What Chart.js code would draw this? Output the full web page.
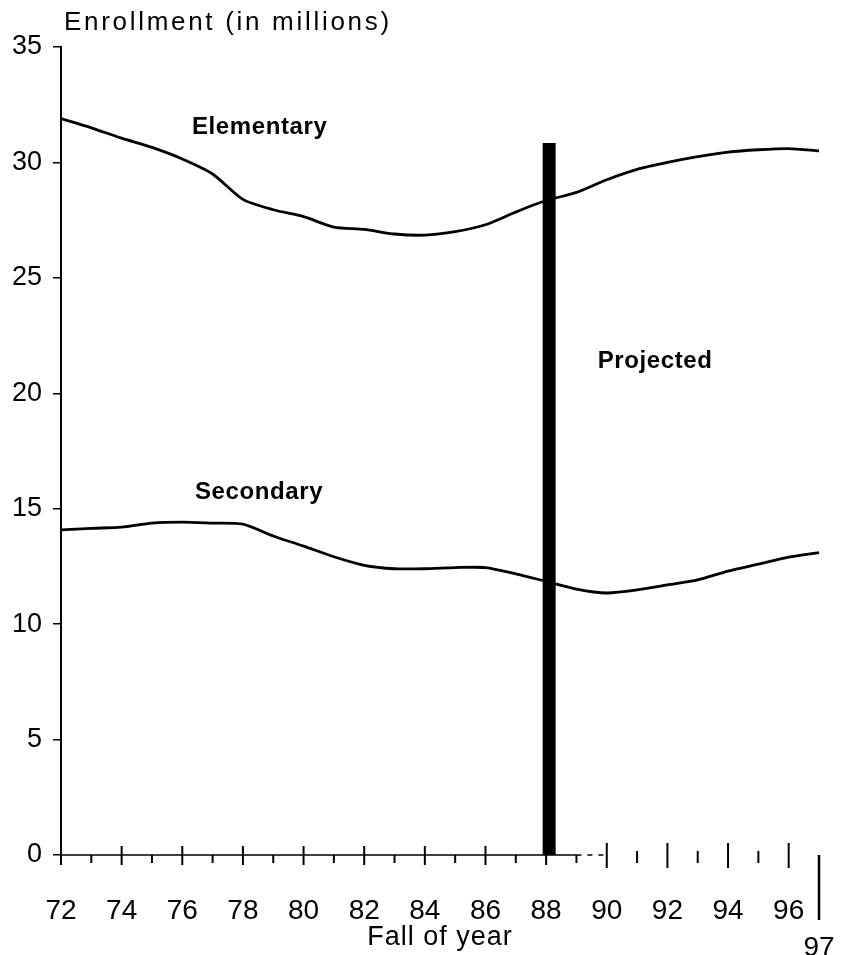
<!DOCTYPE html>
<html lang="en">

<head>
    <meta charset="UTF-8">
    <title>Enrollment</title>
    <script src="https://cdn.jsdelivr.net/npm/chart.js"></script>
    <style>
        body { margin: 0; background: #fff; }
        canvas { display: block; }
    </style>
</head>

<body>
    <canvas id="grafico" width="841" height="955"></canvas>

<script>
    // anos (fall of year) e matriculas em milhoes
    var anos = [72, 73, 74, 75, 76, 77, 78, 79, 80, 81, 82, 83, 84, 85, 86, 87, 88, 89, 90, 91, 92, 93, 94, 95, 96, 97];
    var elementary = [31.9, 31.5, 31.05, 30.65, 30.15, 29.5, 28.4, 27.95, 27.65, 27.2, 27.1, 26.9, 26.85, 27.0, 27.3, 27.85, 28.35, 28.7, 29.25, 29.7, 30.0, 30.25, 30.45, 30.55, 30.6, 30.5];
    var secondary = [14.08, 14.15, 14.2, 14.38, 14.42, 14.38, 14.33, 13.82, 13.38, 12.92, 12.55, 12.4, 12.4, 12.45, 12.45, 12.18, 11.85, 11.52, 11.35, 11.48, 11.7, 11.92, 12.3, 12.6, 12.9, 13.1];
    var xTicks = [72, 74, 76, 78, 80, 82, 84, 86, 88, 90, 92, 94, 96, 97];
    var yTicks = [0, 5, 10, 15, 20, 25, 30, 35];
    var projetadoAno = 88.1;
    var projetadoTopo = 30.84;

    // rotulos dentro do grafico (em valores de dados)
    var notas = [
        { texto: "Elementary", x: 76.32, y: 31.5 },
        { texto: "Secondary", x: 76.42, y: 15.7 },
        { texto: "Projected", x: 89.7, y: 21.4 }
    ];

    function pontos(valores) {
        var lista = [];
        for (var i = 0; i < anos.length; i++) {
            lista.push({ x: anos[i], y: valores[i] });
        }
        return lista;
    }

    var extras = {
        id: 'extras',
        afterDraw: function (chart) {
            var ctx = chart.ctx;
            var sx = chart.scales.x;
            var sy = chart.scales.y;
            var y0 = sy.getPixelForValue(0);
            ctx.save();
            ctx.strokeStyle = '#000';
            ctx.fillStyle = '#000';

            // linha do eixo x (solida ate 89, tracejada ate 90)
            ctx.lineWidth = 1.5;
            ctx.beginPath();
            ctx.moveTo(sx.getPixelForValue(72), y0);
            ctx.lineTo(sx.getPixelForValue(89), y0);
            ctx.stroke();
            ctx.setLineDash([5, 6]);
            ctx.beginPath();
            ctx.moveTo(sx.getPixelForValue(89), y0);
            ctx.lineTo(sx.getPixelForValue(90), y0);
            ctx.stroke();
            ctx.setLineDash([]);

            // marcas do eixo x
            ctx.lineWidth = 2;
            for (var a = 72; a <= 96; a++) {
                var px = sx.getPixelForValue(a);
                var cima, baixo;
                if (a % 2 == 0) {
                    cima = a >= 90 ? 12 : 9;
                    baixo = a >= 90 ? 13 : 10;
                } else {
                    cima = a >= 90 ? 4 : 0;
                    baixo = 8;
                }
                ctx.beginPath();
                ctx.moveTo(px, y0 - cima);
                ctx.lineTo(px, y0 + baixo);
                ctx.stroke();
            }
            // traco longo do 97
            var p97 = sx.getPixelForValue(97);
            ctx.lineWidth = 2.5;
            ctx.beginPath();
            ctx.moveTo(p97, y0);
            ctx.lineTo(p97, y0 + 65);
            ctx.stroke();

            // titulos
            ctx.textBaseline = 'middle';
            ctx.textAlign = 'left';
            ctx.font = '26px "Liberation Sans", Arial, sans-serif';
            ctx.letterSpacing = '2.7px';
            ctx.fillText('Enrollment (in millions)', 64, 23);

            ctx.textAlign = 'center';
            ctx.font = '27px "Liberation Sans", Arial, sans-serif';
            ctx.letterSpacing = '1px';
            ctx.fillText('Fall of year', (sx.left + sx.right) / 2, 938);

            ctx.textAlign = 'left';
            ctx.font = 'bold 24px "Liberation Sans", Arial, sans-serif';
            ctx.letterSpacing = '0.6px';
            notas.forEach(function (n) {
                ctx.fillText(n.texto, sx.getPixelForValue(n.x), sy.getPixelForValue(n.y));
            });
            ctx.restore();
        }
    };

    const ctx = document.getElementById('grafico');
    new Chart(ctx, {
        type: 'line',
        data: {
            datasets: [{
                label: 'Projected',
                data: [{ x: projetadoAno, y: 0 }, { x: projetadoAno, y: projetadoTopo }],
                borderColor: '#000',
                borderWidth: 13,
                borderCapStyle: 'butt',
                pointRadius: 0,
                order: 0
            }, {
                label: 'Elementary',
                data: pontos(elementary),
                borderColor: '#000',
                borderWidth: 2.8,
                pointRadius: 0,
                tension: 0.25,
                order: 1
            }, {
                label: 'Secondary',
                data: pontos(secondary),
                borderColor: '#000',
                borderWidth: 2.8,
                pointRadius: 0,
                tension: 0.25,
                order: 1
            }]
        },
        options: {
            responsive: false,
            animation: false,
            layout: { padding: { top: 47, right: 22, left: 0, bottom: 0 } },
            plugins: {
                legend: { display: false },
                tooltip: { enabled: false }
            },
            scales: {
                x: {
                    type: 'linear',
                    min: 72,
                    max: 97,
                    afterFit: function (s) {
                        s.height = 100;
                        s.paddingLeft = 0;
                        s.paddingRight = 0;
                    },
                    afterBuildTicks: function (s) {
                        s.ticks = xTicks.map(function (v) { return { value: v }; });
                    },
                    grid: { display: false },
                    border: { display: false },
                    ticks: {
                        autoSkip: false,
                        maxRotation: 0,
                        padding: 29,
                        color: '#000',
                        font: { family: '"Liberation Sans", Arial, sans-serif', size: 28, lineHeight: 1.35 },
                        callback: function (v) { return v == 97 ? ['', '97'] : String(v); }
                    }
                },
                y: {
                    min: 0,
                    max: 35,
                    afterFit: function (s) {
                        s.width = 61;
                        s.paddingTop = 0;
                        s.paddingBottom = 0;
                    },
                    afterBuildTicks: function (s) {
                        s.ticks = yTicks.map(function (v) { return { value: v }; });
                    },
                    grid: { drawOnChartArea: false, tickLength: 8, color: '#000', lineWidth: 1.5 },
                    border: { display: true, color: '#000', width: 2 },
                    ticks: {
                        padding: 11,
                        color: '#000',
                        font: { family: '"Liberation Sans", Arial, sans-serif', size: 27 }
                    }
                }
            }
        },
        plugins: [extras]
    });
</script>
</body>

</html>
